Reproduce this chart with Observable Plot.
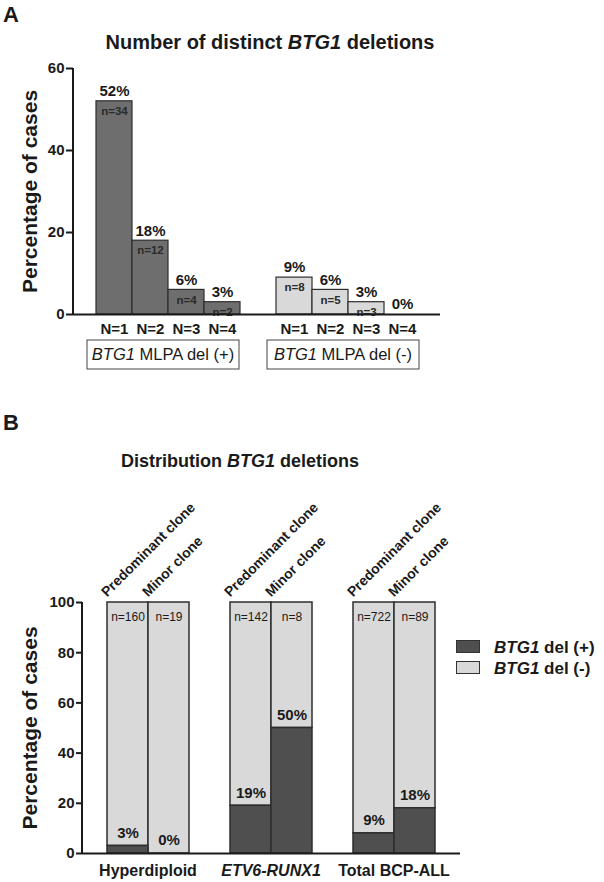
<!DOCTYPE html>
<html><head><meta charset="utf-8">
<script src="https://cdn.jsdelivr.net/npm/d3@7"></script>
<script src="https://cdn.jsdelivr.net/npm/@observablehq/plot@0.6"></script>
<style>
body{margin:0;background:#fff;}
#root{position:relative;width:604px;height:882px;font-family:Arial,"Liberation Sans",sans-serif;color:#1a1a1a;overflow:hidden;}
#root svg{position:absolute;left:0;overflow:visible;background:transparent;}
.abs{position:absolute;line-height:1;white-space:nowrap;}
g[aria-label="y-axis tick"]{stroke-width:2px;}
g[aria-label="y-axis"] .tick line{stroke-width:2px;}
</style></head><body><div id="root"></div>
<script>
// ---------- Panel A data ----------
const countLabels = ["N=1", "N=2", "N=3", "N=4"];
const geneName = "BTG1";
const mlpaGroups = ["MLPA del (+)", "MLPA del (-)"];
const pctMlpaPos = [52, 18, 6, 3];
const pctMlpaNeg = [9, 6, 3, 0];
const nMlpaPos = [34, 12, 4, 2];
const nMlpaNeg = [8, 5, 3, 0];
const yTicksA = [0, 20, 40, 60];

// ---------- Panel B data ----------
const subtypes = ["Hyperdiploid", "ETV6-RUNX1", "Total BCP-ALL"];
const italicSubtypes = ["ETV6-RUNX1"];
const clones = ["Predominant clone", "Minor clone"];
const delPosBar = [[3, 0], [19, 50], [8, 18]];
const delPosText = [[3, 0], [19, 50], [9, 18]];
const casesN = [[160, 19], [142, 8], [722, 89]];
const statusLabels = ["del (+)", "del (-)"];
const yTicksB = [0, 20, 40, 60, 80, 100];

// ---------- colours ----------
const darkA = "#6e6e6e", lightGrey = "#d9d9d9", darkB = "#4f4f4f", edge = "#2e2e2e";

const baseStyle = {fontFamily: "Arial, 'Liberation Sans', sans-serif", fontSize: "15px", fontWeight: "bold", color: "#1a1a1a", background: "transparent", overflow: "visible"};

function bandwidthOf(x) { return typeof x.bandwidth === "function" ? x.bandwidth() : x.bandwidth; }
function leftAxisLine(index, scales, values, dims) {
  return d3.create("svg:line")
    .attr("x1", dims.marginLeft).attr("x2", dims.marginLeft)
    .attr("y1", dims.marginTop).attr("y2", dims.height - dims.marginBottom)
    .attr("stroke", "currentColor").attr("stroke-width", 2).node();
}

// ---------- Panel A ----------
const slotsA = [...countLabels.map(c => "0|" + c), "gap", ...countLabels.map(c => "1|" + c)];
const pctA = [pctMlpaPos, pctMlpaNeg], nA = [nMlpaPos, nMlpaNeg];
const rowsA = [];
mlpaGroups.forEach((g, gi) => countLabels.forEach((c, i) =>
  rowsA.push({slot: gi + "|" + c, group: g, pct: pctA[gi][i], n: nA[gi][i]})));

function groupBoxes(index, scales, values, dims) {
  const x = scales.x, bw = bandwidthOf(x);
  const y0 = dims.height - dims.marginBottom;
  const g = d3.create("svg:g");
  mlpaGroups.forEach((label, gi) => {
    const first = x(gi + "|" + countLabels[0]);
    const last = x(gi + "|" + countLabels[countLabels.length - 1]) + bw;
    const cx = (first + last) / 2 - 5;
    g.append("rect").attr("x", cx - 76).attr("y", y0 + 26).attr("width", 152).attr("height", 29)
      .attr("fill", "white").attr("stroke", "#444").attr("stroke-width", 1);
    const t = g.append("text").attr("x", cx).attr("y", y0 + 46).attr("text-anchor", "middle")
      .attr("font-size", 16.5).attr("font-weight", "normal").attr("fill", "currentColor");
    t.append("tspan").attr("font-style", "italic").text(geneName);
    t.append("tspan").text(" " + label);
  });
  return g.node();
}

const plotA = Plot.plot({
  width: 604, height: 380,
  marginLeft: 73, marginRight: 164, marginTop: 68, marginBottom: 66,
  style: baseStyle,
  x: {domain: slotsA, padding: 0, insetLeft: 19, insetRight: 17, tickSize: 0, tickPadding: 9,
      tickFormat: s => s === "gap" ? "" : s.split("|")[1], label: null},
  y: {domain: [0, 60], ticks: yTicksA, tickSize: 7, tickPadding: 2, label: null},
  color: {domain: mlpaGroups, range: [darkA, lightGrey]},
  marks: [
    Plot.barY(rowsA.filter(d => d.pct > 0), {x: "slot", y: "pct", fill: "group", stroke: edge, strokeWidth: 1.2}),
    Plot.text(rowsA.filter(d => d.n > 0), {x: "slot", y: "pct", text: d => "n=" + d.n, dy: 10, fontSize: 11.5, fill: "#2a2a2a"}),
    Plot.text(rowsA, {x: "slot", y: "pct", text: d => d.pct + "%", dy: -10, fontSize: 15}),
    Plot.ruleY([0], {strokeWidth: 2}),
    leftAxisLine,
    groupBoxes,
    Plot.text(["Percentage of cases"], {text: d => d, frameAnchor: "left", textAnchor: "middle", rotate: -90, dx: -43, fontSize: 21})
  ]
});

// ---------- Panel B ----------
const slotsB = [];
subtypes.forEach((s, si) => {
  if (si > 0) slotsB.push("gap" + si);
  clones.forEach((c, ci) => slotsB.push(si + "|" + ci));
});
const rowsB = [];
subtypes.forEach((s, si) => clones.forEach((c, ci) => rowsB.push({
  slot: si + "|" + ci, subtype: s, clone: c,
  del: delPosBar[si][ci], label: delPosText[si][ci], n: casesN[si][ci]
})));

function subtypeLabels(index, scales, values, dims) {
  const x = scales.x, bw = bandwidthOf(x);
  const yb = dims.height - dims.marginBottom + 23;
  const g = d3.create("svg:g").attr("font-size", 16).attr("text-anchor", "middle").attr("fill", "currentColor");
  subtypes.forEach((s, si) => {
    const cx = x(si + "|0") + bw;
    g.append("text").attr("x", cx).attr("y", yb)
      .attr("font-style", italicSubtypes.includes(s) ? "italic" : null).text(s);
  });
  return g.node();
}

const plotB = Plot.plot({
  width: 604, height: 502,
  marginLeft: 82, marginRight: 144, marginTop: 222, marginBottom: 29,
  style: baseStyle,
  x: {domain: slotsB, padding: 0, insetLeft: 22, insetRight: 22, axis: null},
  y: {domain: [0, 100], ticks: yTicksB, tickSize: 6, tickPadding: 2, label: null},
  color: {domain: statusLabels, range: [darkB, lightGrey]},
  marks: [
    Plot.barY(rowsB, {x: "slot", y1: "del", y2: () => 100, fill: () => statusLabels[1], stroke: edge, strokeWidth: 1.5}),
    Plot.barY(rowsB.filter(d => d.del > 0), {x: "slot", y1: () => 0, y2: "del", fill: () => statusLabels[0], stroke: edge, strokeWidth: 1.5}),
    Plot.text(rowsB, {x: "slot", y: () => 100, text: d => "n=" + d.n, dy: 15, fontSize: 12, fontWeight: "normal"}),
    Plot.text(rowsB, {x: "slot", y: "del", text: d => d.label + "%", dy: -13, fontSize: 15}),
    Plot.text(rowsB, {x: "slot", y: () => 100, text: "clone", rotate: -45, textAnchor: "start", lineAnchor: "bottom", dx: -21, dy: -5, fontSize: 14}),
    Plot.ruleY([0], {strokeWidth: 2}),
    leftAxisLine,
    subtypeLabels,
    Plot.text(["Percentage of cases"], {text: d => d, frameAnchor: "left", textAnchor: "middle", rotate: -90, dx: -52, fontSize: 21})
  ]
});

// ---------- assemble ----------
const root = document.getElementById("root");
plotA.style.top = "0px";
plotB.style.top = "380px";
root.appendChild(plotA);
root.appendChild(plotB);

function addDiv(html, css) {
  const d = document.createElement("div");
  d.className = "abs";
  d.innerHTML = html;
  Object.assign(d.style, css);
  root.appendChild(d);
  return d;
}
addDiv("A", {left: "3px", top: "4px", fontSize: "22px", fontWeight: "bold"});
addDiv("B", {left: "3px", top: "412px", fontSize: "22px", fontWeight: "bold"});
addDiv(`Number of distinct <i>${geneName}</i> deletions`, {left: "0px", width: "540px", textAlign: "center", top: "32px", fontSize: "20px", fontWeight: "bold"});
addDiv(`Distribution <i>${geneName}</i> deletions`, {left: "0px", width: "480px", textAlign: "center", top: "452px", fontSize: "18px", fontWeight: "bold"});

// legend
[darkB, lightGrey].forEach((col, i) => {
  const top = 640 + i * 21;
  addDiv("", {left: "456px", top: top + "px", width: "22px", height: "11px", background: col, border: "1px solid #333"});
  addDiv(`<i>${geneName}</i> ${statusLabels[i]}`, {left: "494px", top: (top - 1.5) + "px", fontSize: "17px", fontWeight: "bold"});
});
</script></body></html>
